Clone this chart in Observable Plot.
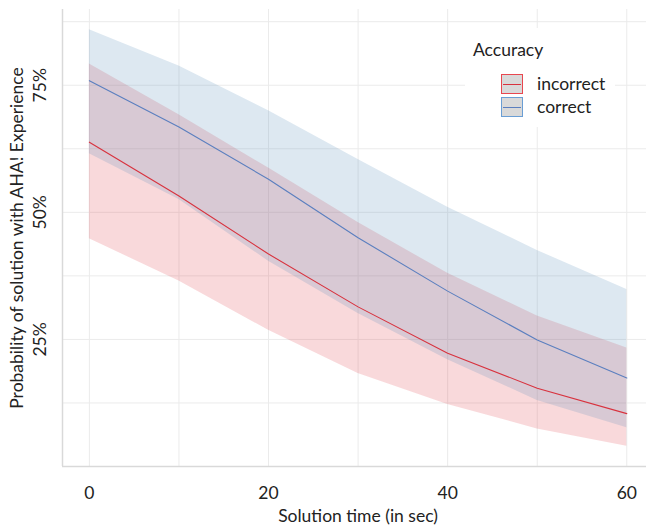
<!DOCTYPE html>
<html>
<head>
<meta charset="utf-8">
<script src="https://cdn.jsdelivr.net/npm/d3@7"></script>
<script src="https://cdn.jsdelivr.net/npm/@observablehq/plot@0.6"></script>
<style>
  html, body { margin: 0; padding: 0; background: #fff; }
  #wrap { position: relative; width: 646px; height: 526px; font-family: Lato, "Open Sans", sans-serif; color: #222; }
  #legend { position: absolute; left: 465px; top: 28px; width: 150px; height: 99px; background: #fff; font-size: 17.5px; }
  #legend .title { position: absolute; left: 8px; top: 11px; line-height: 22px; }
  #legend .row { position: absolute; left: 36px; height: 21px; }
  #legend .key { position: absolute; left: 0; top: 0; width: 20px; height: 18px; background: #d9d9d9; border: 1px solid; }
  #legend .key i { position: absolute; left: 1px; right: 1px; top: 8.5px; height: 1px; }
  #legend .lab { position: absolute; left: 36px; top: -1px; line-height: 21px; white-space: nowrap; }
</style>
</head>
<body>
<div id="wrap"><div id="legend"></div></div>
<script>
// ---- data (percent) ----
const times = [0, 10, 20, 30, 40, 50, 60];
const groups = ["incorrect", "correct"];
const incorrectFit   = [63.8, 53.2, 41.8, 31.4, 22.3, 15.4, 10.4];
const incorrectLower = [44.8, 36.5, 26.8, 18.3, 12.2, 7.4, 4.0];
const incorrectUpper = [79.2, 69.2, 58.7, 48.0, 38.0, 29.6, 23.3];
const correctFit     = [75.9, 66.8, 56.5, 45.0, 34.5, 24.9, 17.4];
const correctLower   = [61.5, 52.5, 40.4, 30.1, 21.0, 13.0, 7.6];
const correctUpper   = [85.9, 78.8, 70.0, 60.4, 51.0, 42.5, 34.8];
const xTicks = [0, 20, 40, 60];
const xGrid = [0, 10, 20, 30, 40, 50, 60];
const yTicks = [25, 50, 75];
const yGrid = [12.5, 25, 37.5, 50, 62.5, 75, 87.5];
const xTitle = "Solution time (in sec)";
const yTitle = "Probability of solution with AHA! Experience";
const legendTitle = "Accuracy";
const fillColors = ["#e1414b", "#558cb9"];
const lineColors = ["#d8323e", "#5b7fbf"];
const keyBorders = ["#e8474f", "#6a9ed4"];

const series = {
  incorrect: {fit: incorrectFit, lower: incorrectLower, upper: incorrectUpper},
  correct: {fit: correctFit, lower: correctLower, upper: correctUpper}
};
const rows = groups.flatMap(g => times.map((t, i) => ({
  time: t, group: g, fit: series[g].fit[i], lower: series[g].lower[i], upper: series[g].upper[i]
})));

const fs = 17.5;
const gridColor = "#ebebeb";
const plot = Plot.plot({
  width: 646,
  height: 526,
  marginLeft: 62,
  marginRight: 0,
  marginTop: 9,
  marginBottom: 60,
  style: {fontFamily: "Lato, 'Open Sans', sans-serif", fontSize: fs + "px", color: "#222", background: "#fff"},
  x: {domain: [-3, 62.2], axis: null},
  y: {domain: [0, 89.9], axis: null},
  color: {domain: groups, range: fillColors},
  marks: [
    Plot.ruleX(xGrid, {stroke: gridColor, strokeWidth: 1}),
    Plot.ruleY(yGrid, {stroke: gridColor, strokeWidth: 1}),
    Plot.ruleY([0], {stroke: "#d9d9d9", strokeWidth: 1.5}),
    Plot.ruleX([-3], {stroke: "#d9d9d9", strokeWidth: 1.5}),
    Plot.areaY(rows.filter(d => d.group === "incorrect"), {x: "time", y1: "lower", y2: "upper", fill: "group", fillOpacity: 0.2}),
    Plot.areaY(rows.filter(d => d.group === "correct"), {x: "time", y1: "lower", y2: "upper", fill: "group", fillOpacity: 0.2}),
    Plot.lineY(rows.filter(d => d.group === "incorrect"), {x: "time", y: "fit", stroke: lineColors[0], strokeWidth: 1.1}),
    Plot.lineY(rows.filter(d => d.group === "correct"), {x: "time", y: "fit", stroke: lineColors[1], strokeWidth: 1.1}),
    Plot.text(xTicks, {x: d => d, frameAnchor: "bottom", dy: 27, text: d => String(d), fontSize: fs, fill: "#222", lineAnchor: "middle"}),
    Plot.text(yTicks, {y: d => d, frameAnchor: "left", dx: -22, rotate: -90, text: d => d + "%", fontSize: fs, fill: "#222", textAnchor: "middle", lineAnchor: "middle"}),
    Plot.text([xTitle], {frameAnchor: "bottom", dy: 50, dx: 3.5, text: d => d, fontSize: fs, fill: "#222", lineAnchor: "middle"}),
    Plot.text([yTitle], {frameAnchor: "left", dx: -45, rotate: -90, text: d => d, fontSize: fs, fill: "#222", textAnchor: "middle", lineAnchor: "middle"})
  ]
});
const wrap = document.getElementById("wrap");
wrap.insertBefore(plot, wrap.firstChild);

// legend
const legend = document.getElementById("legend");
const t = document.createElement("div");
t.className = "title"; t.textContent = legendTitle; legend.appendChild(t);
groups.forEach((g, i) => {
  const row = document.createElement("div");
  row.className = "row";
  row.style.top = (46 + i * 23) + "px";
  const key = document.createElement("div");
  key.className = "key"; key.style.borderColor = keyBorders[i];
  const ln = document.createElement("i"); ln.style.background = lineColors[i];
  key.appendChild(ln);
  const lab = document.createElement("div");
  lab.className = "lab"; lab.textContent = g;
  row.appendChild(key); row.appendChild(lab);
  legend.appendChild(row);
});
</script>
</body>
</html>
